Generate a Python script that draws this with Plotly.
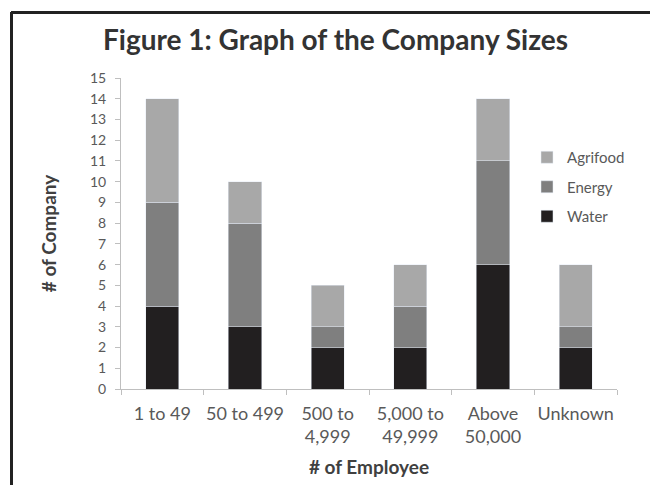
import plotly.graph_objects as go

categories = ["1 to 49", "50 to 499", "500 to<br>4,999", "5,000 to<br>49,999", "Above<br>50,000", "Unknown"]
water = [4, 3, 2, 2, 6, 2]
energy = [5, 5, 1, 2, 5, 1]
agrifood = [5, 2, 2, 2, 3, 3]
y_ticks = list(range(0, 16))

L, R, T, B = 121, 617, 78, 389
W, H = 650, 485

def px(x):
    return (x - L) / (R - L)

def py(y):
    return (B - y) / (B - T)

fig = go.Figure()
fig.add_trace(go.Bar(name="Water", x=categories, y=water, marker_color="#221f20",
                     legendgroup="w", legendrank=3))
fig.add_trace(go.Bar(name="Energy", x=categories, y=energy, marker_color="#7f7f7f",
                     legendgroup="e", legendrank=2))
fig.add_trace(go.Bar(name="Agrifood", x=categories, y=agrifood, marker_color="#a8a8a8",
                     legendgroup="a", legendrank=1))

fig.update_layout(
    width=W, height=H,
    barmode="stack", bargap=0.6,
    plot_bgcolor="white", paper_bgcolor="white",
    margin=dict(l=L, r=W - R, t=T, b=H - B),
    font=dict(family="Lato, Carlito, Calibri, sans-serif", color="#595959", size=14),
    title=dict(text="<b>Figure 1: Graph of the Company Sizes</b>", x=335.5 / W, xanchor="center",
               y=1 - 40 / H, yanchor="middle",
               font=dict(size=28, color="#333333", family="Lato, sans-serif")),
    legend=dict(x=px(527), y=py(141), xanchor="left", yanchor="top",
                traceorder="grouped", tracegroupgap=7,
                font=dict(size=15, color="#595959"), bgcolor="rgba(0,0,0,0)"),
    shapes=[
        dict(type="line", xref="paper", yref="paper", x0=px(11), x1=px(652), y0=py(12.5), y1=py(12.5),
             line=dict(color="#222222", width=3)),
        dict(type="line", xref="paper", yref="paper", x0=px(11.5), x1=px(11.5), y0=py(12), y1=py(490),
             line=dict(color="#222222", width=3)),
    ],
)

fig.update_xaxes(
    showline=True, linecolor="#bfbfbf", linewidth=1,
    ticks="outside", ticklen=5, tickcolor="#bfbfbf", tickson="boundaries",
    tickangle=0, ticklabelstandoff=8,
    tickfont=dict(size=18, color="#595959"),
    title=dict(text="<b># of Employee</b>", font=dict(size=19, color="#404040"), standoff=14),
)
fig.update_yaxes(
    range=[0, 15], tickvals=y_ticks, showgrid=False,
    showline=True, linecolor="#bfbfbf", linewidth=1,
    ticks="outside", ticklen=5, tickcolor="#bfbfbf", ticklabelstandoff=6,
    tickfont=dict(size=14, color="#595959"),
    title=dict(text="<b># of Company</b>", font=dict(size=19, color="#404040"), standoff=28),
    zeroline=False,
)

fig.write_html("out.html")
